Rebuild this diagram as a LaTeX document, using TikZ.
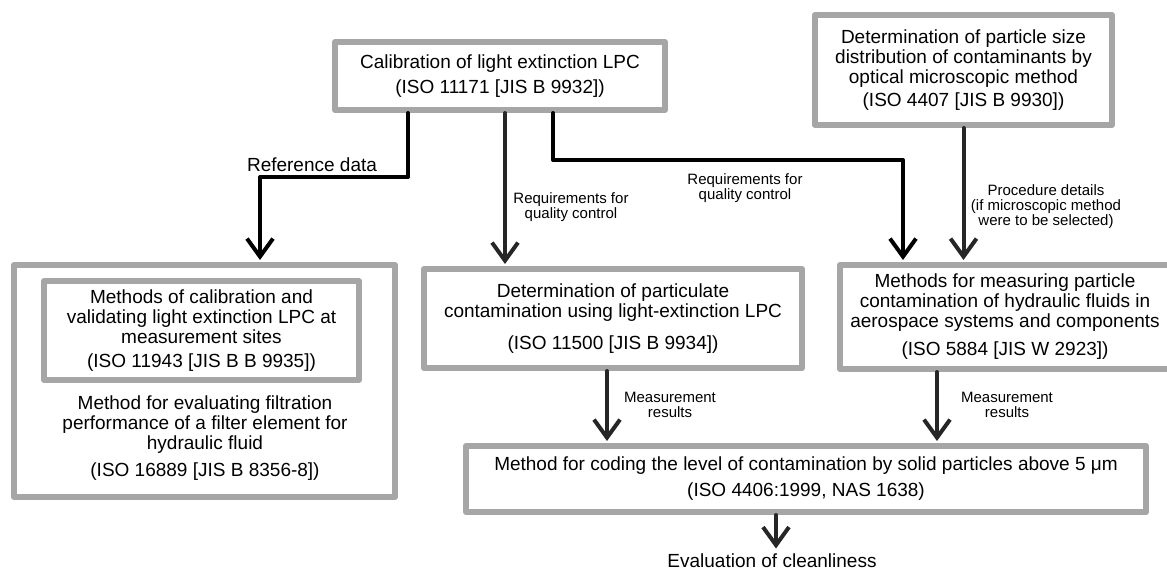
\documentclass[tikz,border=0pt]{standalone}
\usepackage{fontspec}
\setmainfont{Liberation Sans}
\usetikzlibrary{arrows.meta}
\definecolor{boxgray}{HTML}{A6A6A6}
\definecolor{arrowgray}{HTML}{262626}
\newcommand{\boxfnt}{\fontsize{19}{20}\selectfont}
\newcommand{\labfnt}{\fontsize{15}{15}\selectfont}
\tikzstyle{every node}=[font=\boxfnt]
\tikzstyle{every path}=[line cap=round,line join=round]
\tikzstyle{stdbox}=[draw=boxgray,line width=6pt,fill=white,align=center,inner sep=0pt]

\begin{document}
\begin{tikzpicture}[x=1pt,y=-1pt]
		\tikzstyle{flow} = [line width=4pt,arrowgray,shorten >=2pt,-{Straight Barb[length=18pt,width=26pt]}]
		\tikzstyle{lab} = [font=\labfnt,align=center]
		\useasboundingbox (0,0) rectangle (1167,574);
		
		% standards
		\node[stdbox,minimum width=330pt,minimum height=68pt] (calib) at (500,76) {Calibration of light extinction LPC\\[5pt](ISO 11171 [JIS B 9932])};
		\node[stdbox,minimum width=297pt,minimum height=110pt] (micro) at (963.5,70) {Determination of particle size\\distribution of contaminants by\\optical microscopic method\\[3pt](ISO 4407 [JIS B 9930])};
		\node[stdbox,minimum width=381pt,minimum height=232pt] (filt) at (204.5,381) {};
		\node[stdbox,minimum width=315pt,minimum height=99pt] (valid) at (201.5,330.5) {Methods of calibration and\\validating light extinction LPC at\\measurement sites\\[4pt](ISO 11943 [JIS B B 9935])};
		\node[align=center] (filttext) at (205,438) {Method for evaluating filtration\\performance of a filter element for\\hydraulic fluid\\[7pt](ISO 16889 [JIS B 8356-8])};
		\node[stdbox,minimum width=378pt,minimum height=99pt] (lpc) at (613,318.5) {Determination of particulate\\contamination using light-extinction LPC\\[12pt](ISO 11500 [JIS B 9934])};
		\node[stdbox,minimum width=330pt,minimum height=104pt] (aero) at (1005,317) {Methods for measuring particle\\contamination of hydraulic fluids in\\aerospace systems and components\\[8pt](ISO 5884 [JIS W 2923])};
		\node[stdbox,minimum width=680pt,minimum height=66pt] (code) at (806,479) {Method for coding the level of contamination by solid particles above 5~μm\\[6pt](ISO 4406:1999, NAS 1638)};
		\node (eval) at (772,561) {Evaluation of cleanliness};
		
		% connectors
		\draw[flow,black] ([xshift=-92pt]calib.south) |- ([xshift=55.5pt,yshift=85pt]filt.north) -- ([xshift=55.5pt]filt.north);
		\draw[flow] ([xshift=5pt]calib.south) -- ([xshift=5pt]calib.south |- lpc.north);
		\draw[flow,black] ([xshift=53pt]calib.south) |- ([xshift=-102pt,yshift=102pt]aero.north) -- ([xshift=-102pt]aero.north);
		\draw[flow] (micro.south) -- (micro.south |- aero.north);
		\draw[flow] ([xshift=-6pt]lpc.south) -- ([xshift=-6pt]lpc.south |- code.north);
		\draw[flow] ([xshift=-68pt]aero.south) -- ([xshift=-68pt]aero.south |- code.north);
		\draw[flow] ([xshift=-30pt]code.south) -- ([xshift=-30pt]code.south |- eval.north);
		
		% labels
		\node (reflab) at (312,165) {Reference data};
		\node[lab] (qcmid) at (571,207) {Requirements for\\quality control};
		\node[lab] (qcright) at (745,188) {Requirements for\\quality control};
		\node[lab] (proc) at (1046,207) {Procedure details\\(if microscopic method\\were to be selected)};
		\node[lab] (measmid) at (670,405) {Measurement\\results};
		\node[lab] (measright) at (1007,405) {Measurement\\results};
		
	\end{tikzpicture}
\end{document}
